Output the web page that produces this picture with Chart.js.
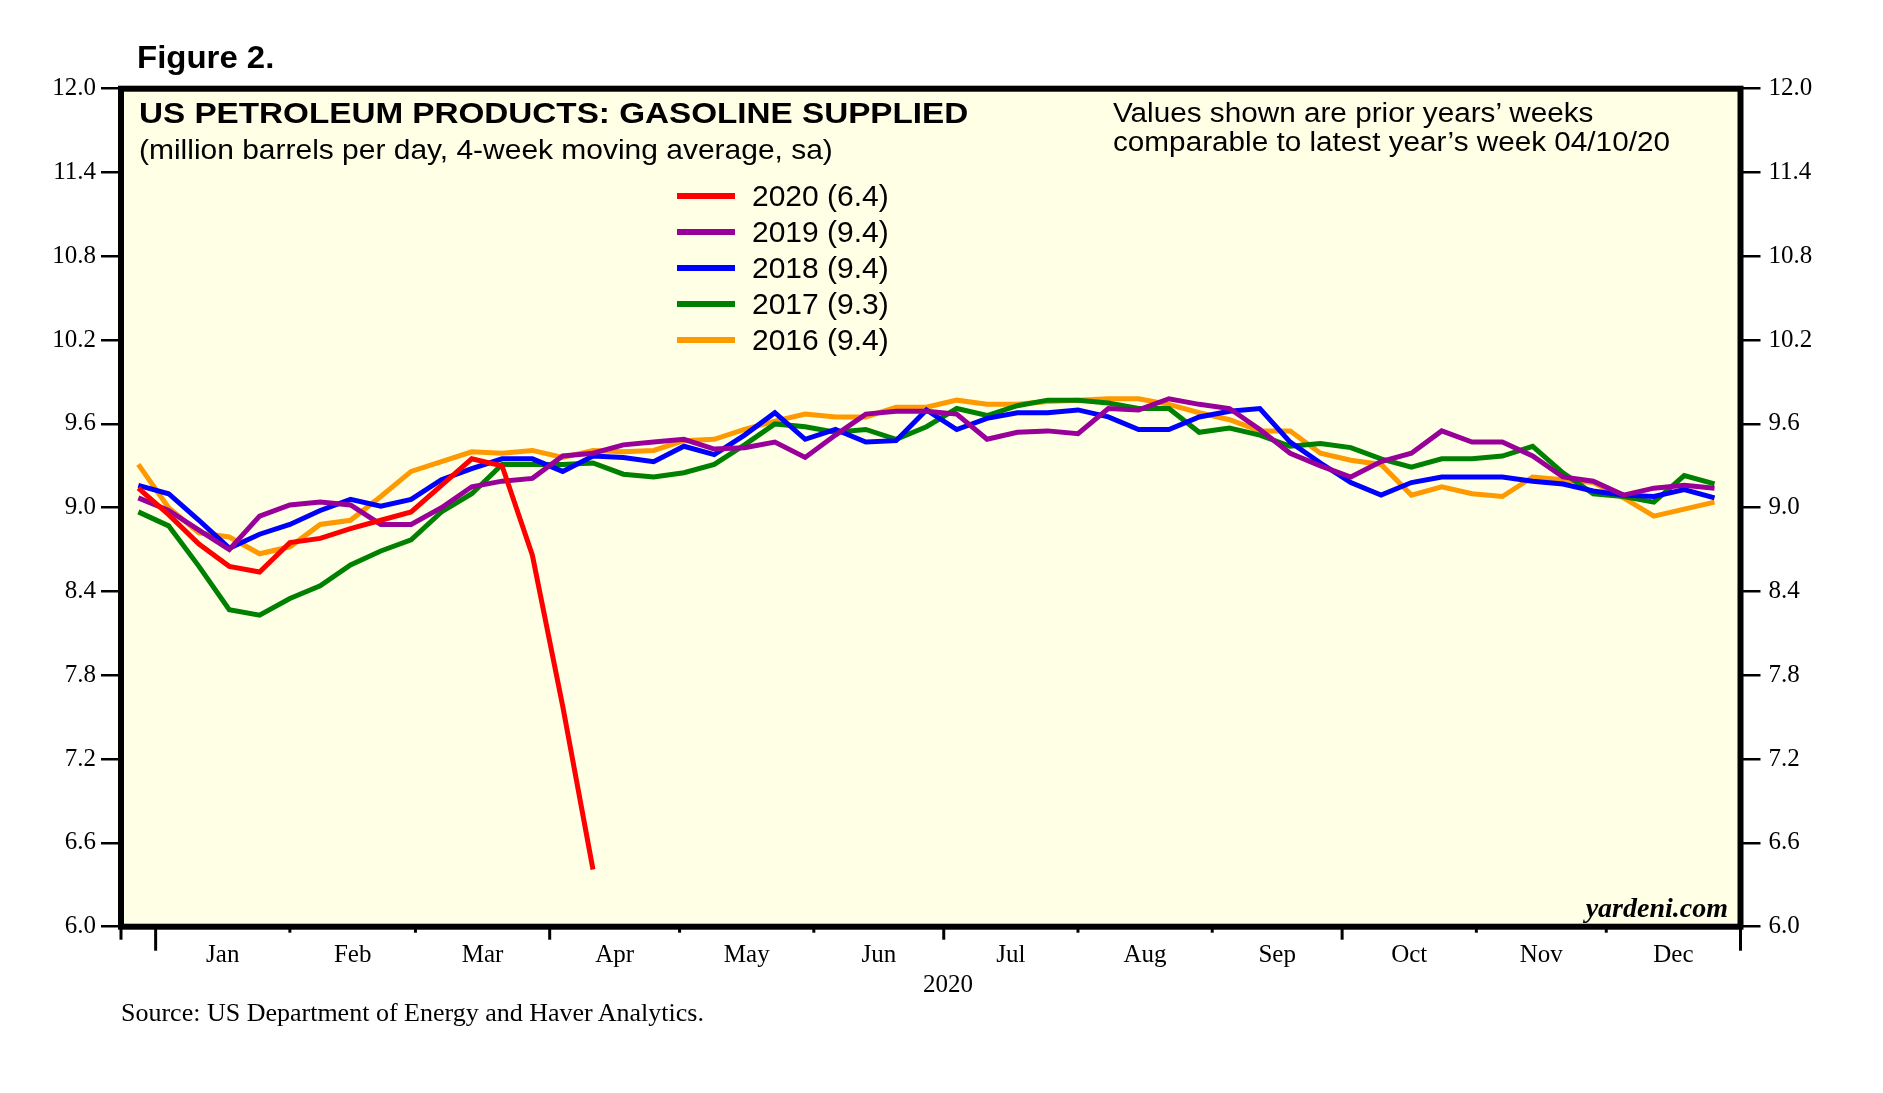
<!DOCTYPE html>
<html>
<head>
<meta charset="utf-8">
<title>US Petroleum Products: Gasoline Supplied</title>
<script src="https://cdn.jsdelivr.net/npm/chart.js@4.4.1/dist/chart.umd.min.js"></script>
<style>
  html, body { margin: 0; padding: 0; background: #fff; }
  #wrap { position: relative; width: 1883px; height: 1093px; overflow: hidden; }
  #wrap canvas { position: absolute; left: 0; top: 0; }
  .txt { position: absolute; white-space: nowrap; line-height: 1; color: #000; transform-origin: 0 0; }
  .sans { font-family: "Liberation Sans", Arial, sans-serif; }
  .serif { font-family: "Liberation Serif", "Times New Roman", serif; }
  .key { position: absolute; height: 6px; width: 58px; }
</style>
</head>
<body>
<div id="wrap">
  <canvas id="gasChart" width="1883" height="1093" style="width:1883px;height:1093px"></canvas>
  <div class="txt sans" style="left:137px;top:41px;font-size:32px;font-weight:bold;transform:scaleX(1.03)">Figure 2.</div>
  <div class="txt sans" style="left:139px;top:97.5px;font-size:30px;font-weight:bold;transform:scaleX(1.108)">US PETROLEUM PRODUCTS: GASOLINE SUPPLIED</div>
  <div class="txt sans" style="left:139px;top:135.5px;font-size:28px;transform:scaleX(1.07)">(million barrels per day, 4-week moving average, sa)</div>
  <div class="txt sans" style="left:1113px;top:99.5px;font-size:27px;transform:scaleX(1.1)">Values shown are prior years’ weeks</div>
  <div class="txt sans" style="left:1113px;top:129px;font-size:27px;transform:scaleX(1.1)">comparable to latest year’s week 04/10/20</div>
  <div class="txt serif" style="right:155px;top:894px;font-size:28px;font-weight:bold;font-style:italic">yardeni.com</div>
  <div class="txt serif" style="left:121px;top:1000px;font-size:26px">Source: US Department of Energy and Haver Analytics.</div>
  <div id="legend"></div>
</div>
<script>
// ------------------------------------------
// weekly data, x = day of 2020 (0 = Jan 1)
// ------------------------------------------
const weekDay = [-4, 3, 10, 17, 24, 31, 38, 45, 52, 59, 66, 73, 80, 87, 94, 101, 108, 115,
    122, 129, 136, 143, 150, 157, 164, 171, 178, 185, 192, 199, 206, 213, 220, 227, 234,
    241, 248, 255, 262, 269, 276, 283, 290, 297, 304, 311, 318, 325, 332, 339, 346, 353, 360];

const y2020 = [9.14, 8.95, 8.74, 8.58, 8.54, 8.75, 8.78, 8.85, 8.91, 8.97, 9.16, 9.35,
    9.30, 8.66, 7.58, 6.41];

const y2019 = [9.07, 8.98, 8.84, 8.70, 8.94, 9.02, 9.04, 9.02, 8.88, 8.88, 9.00, 9.15,
    9.19, 9.21, 9.37, 9.39, 9.45, 9.47, 9.49, 9.42, 9.43, 9.47, 9.36, 9.52, 9.67, 9.69,
    9.69, 9.67, 9.49, 9.54, 9.55, 9.53, 9.71, 9.70, 9.78, 9.74, 9.71, 9.56, 9.39, 9.30,
    9.22, 9.33, 9.39, 9.55, 9.47, 9.47, 9.37, 9.22, 9.19, 9.09, 9.14, 9.16, 9.14];

const y2018 = [9.16, 9.10, 8.91, 8.71, 8.81, 8.88, 8.98, 9.06, 9.01, 9.06, 9.20, 9.28,
    9.35, 9.35, 9.26, 9.37, 9.36, 9.33, 9.44, 9.38, 9.52, 9.68, 9.49, 9.56, 9.47, 9.48,
    9.70, 9.56, 9.64, 9.68, 9.68, 9.70, 9.65, 9.56, 9.56, 9.65, 9.69, 9.71, 9.47, 9.32,
    9.18, 9.09, 9.18, 9.22, 9.22, 9.22, 9.19, 9.17, 9.12, 9.09, 9.08, 9.13, 9.07];

const y2017 = [8.97, 8.87, 8.58, 8.27, 8.23, 8.35, 8.44, 8.59, 8.69, 8.77, 8.97, 9.10,
    9.31, 9.31, 9.31, 9.32, 9.24, 9.22, 9.25, 9.31, 9.45, 9.60, 9.58, 9.54, 9.56, 9.49,
    9.58, 9.71, 9.66, 9.73, 9.77, 9.77, 9.75, 9.71, 9.71, 9.54, 9.57, 9.52, 9.44, 9.46,
    9.43, 9.35, 9.29, 9.35, 9.35, 9.37, 9.44, 9.25, 9.10, 9.08, 9.04, 9.23, 9.17];

const y2016 = [9.31, 9.00, 8.82, 8.79, 8.67, 8.72, 8.88, 8.91, 9.08, 9.26, 9.33, 9.40,
    9.39, 9.41, 9.36, 9.41, 9.40, 9.41, 9.48, 9.49, 9.56, 9.62, 9.67, 9.65, 9.65, 9.72,
    9.72, 9.77, 9.74, 9.74, 9.76, 9.77, 9.78, 9.78, 9.74, 9.68, 9.63, 9.55, 9.55, 9.39,
    9.34, 9.31, 9.09, 9.15, 9.10, 9.08, 9.22, 9.20, 9.18, 9.07, 8.94, 8.99, 9.04];

const seriesNames = ["2020", "2019", "2018", "2017", "2016"];
const seriesData = [y2020, y2019, y2018, y2017, y2016];
const seriesColors = ["#ff0000", "#990099", "#0000ff", "#008000", "#ff9900"];
const latestWeek = 15; // week of 04/10/20

const yTicks = [6.0, 6.6, 7.2, 7.8, 8.4, 9.0, 9.6, 10.2, 10.8, 11.4, 12.0];
const monthStart = [0, 31, 60, 91, 121, 152, 182, 213, 244, 274, 305, 335, 366];
const monthNames = ["Jan", "Feb", "Mar", "Apr", "May", "Jun", "Jul", "Aug", "Sep", "Oct", "Nov", "Dec"];
const quarterDays = [91, 182, 274];

// ------------------------------------------
// legend (html)
// ------------------------------------------
const legend = document.getElementById("legend");
seriesNames.forEach((name, i) => {
    const cy = 195.7 + 36 * i;
    const key = document.createElement("div");
    key.className = "key";
    key.style.left = "677px";
    key.style.top = (cy - 3) + "px";
    key.style.background = seriesColors[i];
    legend.appendChild(key);
    const t = document.createElement("div");
    t.className = "txt sans";
    t.style.left = "752px";
    t.style.top = (cy + 11 - 25.4) + "px";
    t.style.fontSize = "30px";
    t.textContent = name + " (" + seriesData[i][latestWeek].toFixed(1) + ")";
    legend.appendChild(t);
});

// ------------------------------------------
// plugin: background, frame, x tick marks
// ------------------------------------------
const framePlugin = {
    id: "frame",
    beforeDatasetsDraw(chart) {
        const a = chart.chartArea;
        const ctx = chart.ctx;
        ctx.save();
        ctx.fillStyle = "#ffffe5";
        ctx.fillRect(a.left, a.top, a.right - a.left, a.bottom - a.top);
        ctx.restore();
    },
    afterDraw(chart) {
        const a = chart.chartArea;
        const ctx = chart.ctx;
        const x = chart.scales.x;
        ctx.save();
        ctx.strokeStyle = "#000";
        ctx.lineWidth = 6;
        ctx.strokeRect(a.left, a.top, a.right - a.left, a.bottom - a.top);

        // month ticks under the frame
        ctx.lineWidth = 3;
        const ticks = [{ d: -8, len: 13 }].concat(monthStart.map(d => ({
            d: d,
            len: (d === 0 || d === 366) ? 24 : (quarterDays.includes(d) ? 13 : 6)
        })));
        for (const t of ticks) {
            const px = x.getPixelForValue(t.d);
            ctx.beginPath();
            ctx.moveTo(px, a.bottom);
            ctx.lineTo(px, a.bottom + t.len);
            ctx.stroke();
        }

        // year label
        ctx.fillStyle = "#000";
        ctx.font = '25px "Liberation Serif"';
        ctx.textAlign = "center";
        ctx.textBaseline = "alphabetic";
        ctx.fillText("2020", x.getPixelForValue(183), 992);
        ctx.restore();
    }
};

// ------------------------------------------
// chart
// ------------------------------------------
const tickFont = { family: "Liberation Serif", size: 25 };
const yAxis = (pos, w, pad) => ({
    type: "linear",
    position: pos,
    min: 6,
    max: 12,
    afterBuildTicks: (s) => { s.ticks = yTicks.map(v => ({ value: v })); },
    afterFit: (s) => { s.width = w; },
    grid: { drawOnChartArea: false, drawTicks: true, tickLength: 20, color: "#000", lineWidth: 2.5 },
    border: { display: false },
    ticks: { color: "#000", font: tickFont, padding: pad, callback: (v) => Number(v).toFixed(1) }
});

new Chart(document.getElementById("gasChart"), {
    type: "line",
    data: {
        datasets: seriesNames.map((name, i) => ({
            label: name,
            data: seriesData[i].map((v, k) => ({ x: weekDay[k], y: v })),
            borderColor: seriesColors[i],
            backgroundColor: seriesColors[i],
            borderWidth: 5,
            pointRadius: 0,
            tension: 0,
            yAxisID: "y"
        }))
    },
    options: {
        responsive: false,
        devicePixelRatio: 1,
        animation: false,
        events: [],
        layout: { padding: { top: 88.7, left: 0, right: 0, bottom: 0 } },
        plugins: { legend: { display: false }, tooltip: { enabled: false } },
        scales: {
            x: {
                type: "linear",
                min: -8,
                max: 366,
                afterBuildTicks: (s) => {
                    s.ticks = monthNames.map((_, i) => ({ value: (monthStart[i] + monthStart[i + 1]) / 2 }));
                },
                afterFit: (s) => { s.height = 1093 - 926.7; },
                grid: { display: false, drawTicks: false },
                border: { display: false },
                ticks: {
                    color: "#000",
                    font: tickFont,
                    padding: 14,
                    autoSkip: false,
                    maxRotation: 0,
                    callback: (v, i) => monthNames[i]
                }
            },
            y: yAxis("left", 121, 5),
            y2: yAxis("right", 1883 - 1740.5, 8)
        }
    },
    plugins: [framePlugin]
});
</script>
</body>
</html>
